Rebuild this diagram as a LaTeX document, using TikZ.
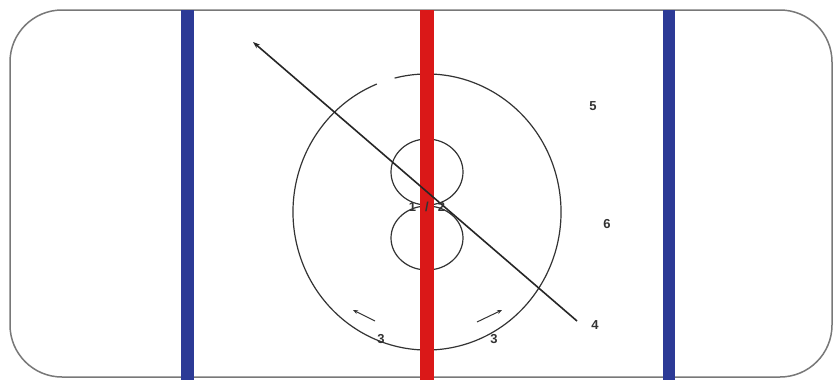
\documentclass[tikz,border=0pt]{standalone}
\usepackage{fontspec}
\setmainfont{Liberation Sans}
\usetikzlibrary{arrows.meta}
\definecolor{rinkred}{RGB}{218,24,24}
\definecolor{rinkblue}{RGB}{44,58,150}
\definecolor{rinkgray}{RGB}{120,120,120}
\begin{document}
\begin{tikzpicture}[x=1pt,y=-1pt,
  lbl/.style={font=\bfseries\fontsize{13}{14}\selectfont, text=black!80, inner sep=0pt},
  markline/.style={line width=1.2pt, draw=black!80},
  bigline/.style={line width=1.6pt, draw=black!85}]
\useasboundingbox (0,0) rectangle (835,380);
\fill[white] (0,0) rectangle (835,380);
% rink
\draw[rinkgray, line width=1.5pt, rounded corners=52pt] (10,10) rectangle (832,377);
% lines
\fill[rinkblue] (181,10) rectangle (194,380);
\fill[rinkblue] (663,10) rectangle (675,380);
% centre circle with small gap at top-left
\draw[markline] (427,212) ++(-104:134 and 138) arc[start angle=-104, end angle=248, x radius=134, y radius=138];
% figure eight
\draw[markline] (427,172) ellipse[x radius=36, y radius=33];
\draw[markline] (427,238) ellipse[x radius=36, y radius=32];
\fill[rinkred] (420,10) rectangle (434,380);
% diagonal pass
\coordinate (p4) at (577,321);
\coordinate (pend) at (253,42);
\draw[bigline, -{Stealth[length=7pt,width=5pt]}] (p4) -- (pend);
% small arrows
\coordinate (a1s) at (375,321);
\coordinate (a1e) at (353,310);
\coordinate (a2s) at (477,322);
\coordinate (a2e) at (502,310);
\draw[line width=1pt, black!80, -{Stealth[length=5pt,width=4pt]}] (a1s) -- (a1e);
\draw[line width=1pt, black!80, -{Stealth[length=5pt,width=4pt]}] (a2s) -- (a2e);
% labels
\node[lbl] (n12) at (427,207) {1\hspace{9pt}/\hspace{9pt}2};
\node[lbl] (n3a) at (381,339) {3};
\node[lbl] (n3b) at (494,339) {3};
\node[lbl] (n4) at (595,325) {4};
\node[lbl] (n5) at (593,106) {5};
\node[lbl] (n6) at (607,224) {6};
\end{tikzpicture}
\end{document}
